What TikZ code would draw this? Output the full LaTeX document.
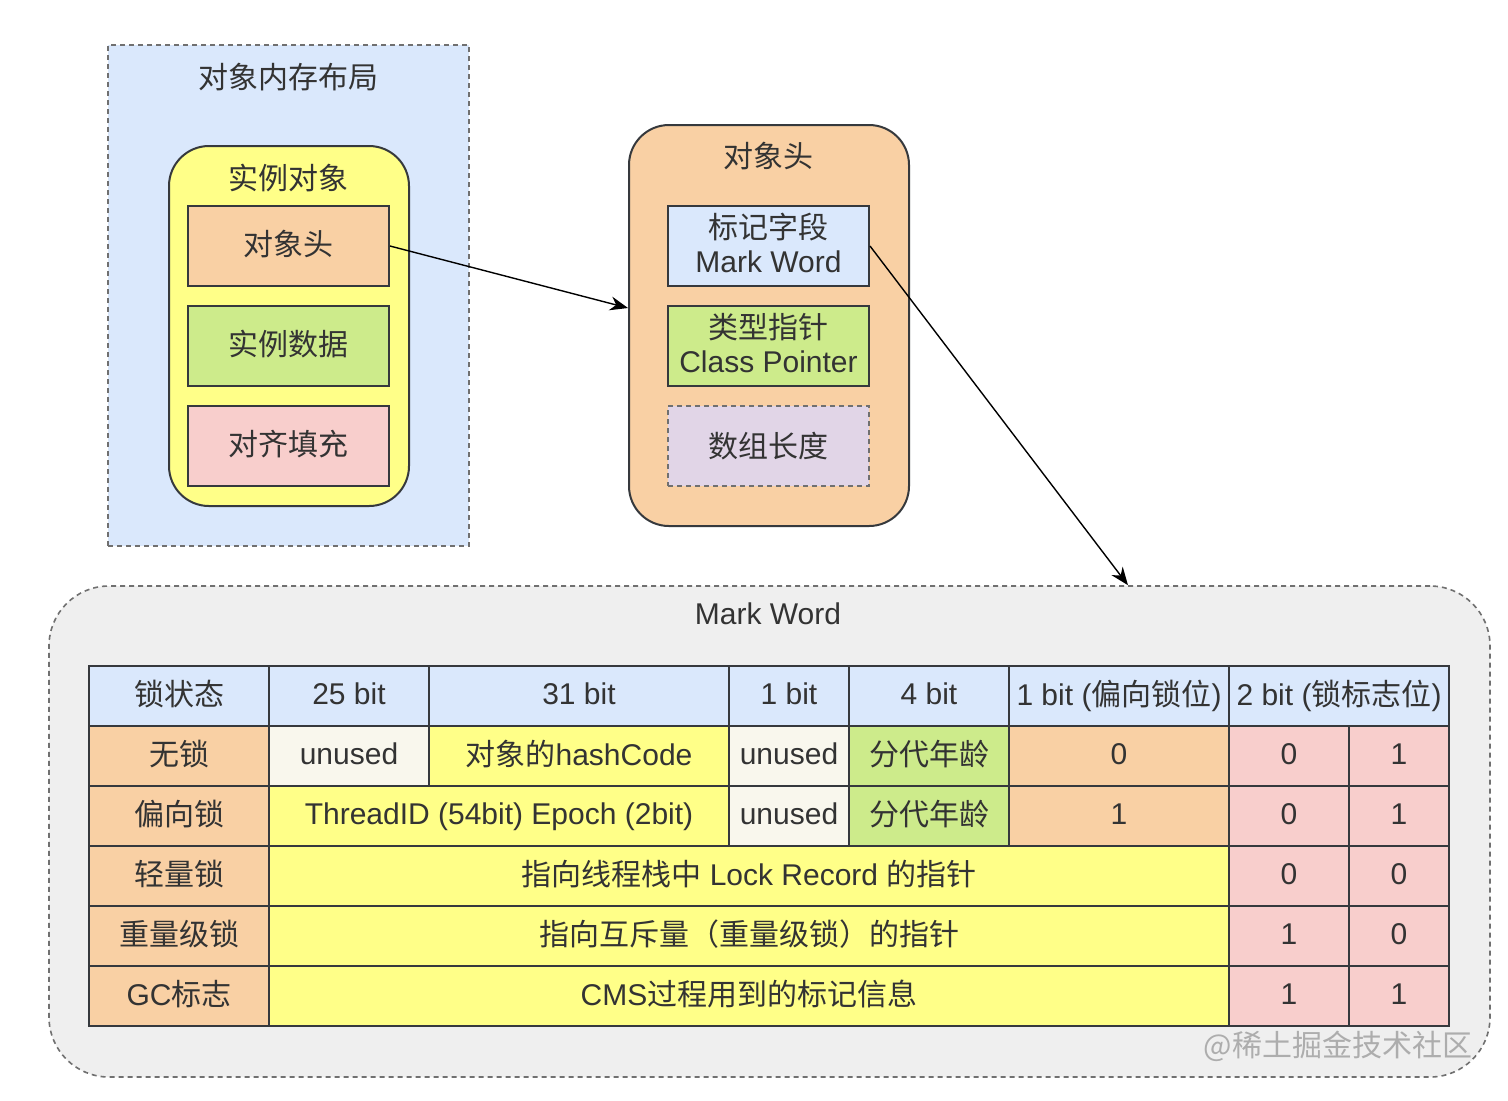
\documentclass[tikz,border=0pt]{standalone}
\usepackage{fontspec}
\setmainfont{Liberation Sans}
\newfontfamily\cjk{Noto Sans CJK SC}
\usetikzlibrary{arrows.meta}
\definecolor{cblue}{HTML}{DAE8FC}
\definecolor{cyellow}{HTML}{FFFF88}
\definecolor{corange}{HTML}{F9D0A4}
\definecolor{cgreen}{HTML}{CDEB8B}
\definecolor{cpink}{HTML}{F8CECC}
\definecolor{cpurple}{HTML}{E1D5E7}
\definecolor{cwhite}{HTML}{F9F7ED}
\definecolor{cgray}{HTML}{EFEFEF}
\definecolor{cborder}{HTML}{36393D}
\definecolor{cdash}{HTML}{707070}
\definecolor{ctext}{HTML}{333333}
\tikzset{
  txt/.style={text=ctext, font=\fontsize{15}{18}\selectfont, align=center, inner sep=0pt},
  cellbox/.style={txt, draw=cborder, line width=1pt},
  dashbox/.style={draw=cdash, line width=0.8pt, dash pattern=on 2.5pt off 2pt},
  arr/.style={draw=black, line width=0.7pt, -{Stealth[length=9pt,width=7pt]}},
}
\newcommand\vph{\vphantom{{\cjk 国}(}}
\newcommand\cell[7]{\node[cellbox, fill=#6, minimum width={(#4-#2)*0.5pt}, minimum height={(#5-#3)*0.5pt}] (#1) at ({(#2+#4)/2},{(#3+#5)/2}) {\vph#7};}
\begin{document}
\begin{tikzpicture}[x=0.5pt,y=-0.5pt]
\useasboundingbox[fill=white] (0,0) rectangle (1508,1100);
% object memory layout
\node[dashbox, fill=cblue, minimum width=180.5pt, minimum height=250.5pt, inner sep=0pt] (layout) at (288.5,295.5) {};
\node[txt] (layoutT) at (288,77) {\cjk 对象内存布局};
\node[draw=cborder, line width=1pt, fill=cyellow, rounded corners=20pt, minimum width=120pt, minimum height=180pt, inner sep=0pt] (inst) at (289,326) {};
\node[txt] (instT) at (288,178) {\cjk 实例对象};
\cell{ohead}{188}{206}{389}{286}{corange}{\cjk 对象头}
\cell{odata}{188}{306}{389}{386}{cgreen}{\cjk 实例数据}
\cell{opad}{188}{406}{389}{486}{cpink}{\cjk 对齐填充}
% object header
\node[draw=cborder, line width=1pt, fill=corange, rounded corners=20pt, minimum width=140pt, minimum height=200.5pt, inner sep=0pt] (hdr) at (769,325.5) {};
\node[txt] (hdrT) at (768,156) {\cjk 对象头};
\cell{mw}{668}{206}{869}{286}{cblue}{{\cjk 标记字段}\\[-1pt]\vph Mark Word}
\cell{cp}{668}{306}{869}{386}{cgreen}{{\cjk 类型指针}\\[-1pt]\vph Class Pointer}
\node[txt, dashbox, fill=cpurple, minimum width=100.5pt, minimum height=40pt] (alen) at (768.5,446) {\cjk 数组长度};
% mark word container
\node[dashbox, fill=cgray, rounded corners=30pt, minimum width=720.5pt, minimum height=245.5pt, inner sep=0pt] (mwbox) at (769.5,831.5) {};
\node[txt] (mwT) at (768,616) {\vph Mark Word};
% header row
\cell{h0}{89}{666}{269}{726}{cblue}{\cjk 锁状态}
\cell{h1}{269}{666}{429}{726}{cblue}{25 bit}
\cell{h2}{429}{666}{729}{726}{cblue}{31 bit}
\cell{h3}{729}{666}{849}{726}{cblue}{1 bit}
\cell{h4}{849}{666}{1009}{726}{cblue}{4 bit}
\cell{h5}{1009}{666}{1229}{726}{cblue}{1 bit ({\cjk 偏向锁位})}
\cell{h6}{1229}{666}{1449}{726}{cblue}{2 bit ({\cjk 锁标志位})}
% row 1
\cell{a0}{89}{726}{269}{786}{corange}{\cjk 无锁}
\cell{a1}{269}{726}{429}{786}{cwhite}{unused}
\cell{a2}{429}{726}{729}{786}{cyellow}{{\cjk 对象的}hashCode}
\cell{a3}{729}{726}{849}{786}{cwhite}{unused}
\cell{a4}{849}{726}{1009}{786}{cgreen}{\cjk 分代年龄}
\cell{a5}{1009}{726}{1229}{786}{corange}{0}
\cell{a6}{1229}{726}{1349}{786}{cpink}{0}
\cell{a7}{1349}{726}{1449}{786}{cpink}{1}
% row 2
\cell{b0}{89}{786}{269}{846}{corange}{\cjk 偏向锁}
\cell{b1}{269}{786}{729}{846}{cyellow}{ThreadID (54bit) Epoch (2bit)}
\cell{b3}{729}{786}{849}{846}{cwhite}{unused}
\cell{b4}{849}{786}{1009}{846}{cgreen}{\cjk 分代年龄}
\cell{b5}{1009}{786}{1229}{846}{corange}{1}
\cell{b6}{1229}{786}{1349}{846}{cpink}{0}
\cell{b7}{1349}{786}{1449}{846}{cpink}{1}
% row 3
\cell{c0}{89}{846}{269}{906}{corange}{\cjk 轻量锁}
\cell{c1}{269}{846}{1229}{906}{cyellow}{{\cjk 指向线程栈中} Lock Record {\cjk 的指针}}
\cell{c6}{1229}{846}{1349}{906}{cpink}{0}
\cell{c7}{1349}{846}{1449}{906}{cpink}{0}
% row 4
\cell{d0}{89}{906}{269}{966}{corange}{\cjk 重量级锁}
\cell{d1}{269}{906}{1229}{966}{cyellow}{\cjk 指向互斥量（重量级锁）的指针}
\cell{d6}{1229}{906}{1349}{966}{cpink}{1}
\cell{d7}{1349}{906}{1449}{966}{cpink}{0}
% row 5
\cell{e0}{89}{966}{269}{1026}{corange}{GC{\cjk 标志}}
\cell{e1}{269}{966}{1229}{1026}{cyellow}{CMS{\cjk 过程用到的标记信息}}
\cell{e6}{1229}{966}{1349}{1026}{cpink}{1}
\cell{e7}{1349}{966}{1449}{1026}{cpink}{1}
% watermark
\node[txt, text=black!32] (wm) at (1338,1046) {\cjk @稀土掘金技术社区};
% connectors
\draw[arr] (ohead.east) -- ([yshift=8.75pt]hdr.west);
\draw[arr] (mw.east) -- ([xshift=179.25pt]mwbox.north);
\end{tikzpicture}
\end{document}
